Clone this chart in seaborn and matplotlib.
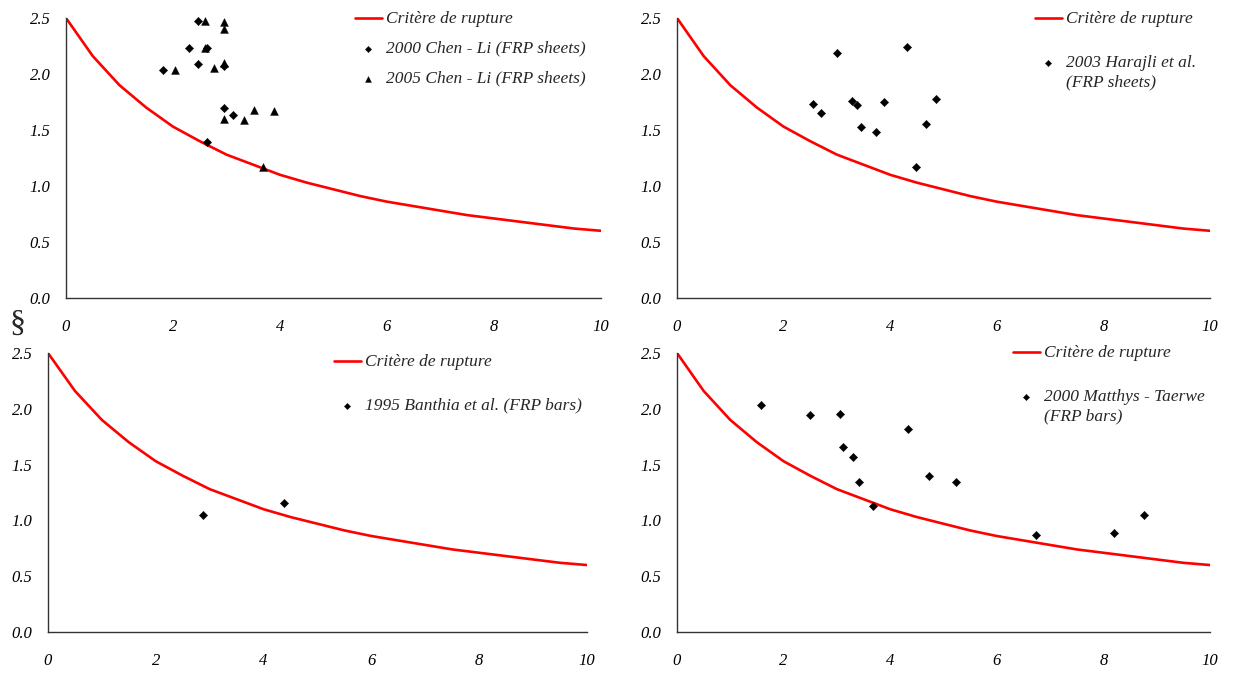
import matplotlib
matplotlib.use("Agg")
import matplotlib.pyplot as plt
import seaborn as sns
import pandas as pd

# failure criterion curve (every 0.5)
crit_x = [0, 0.5, 1, 1.5, 2, 2.5, 3, 3.5, 4, 4.5, 5, 5.5, 6, 6.5, 7, 7.5, 8, 8.5, 9, 9.5, 10]
crit_y = [2.50, 2.16, 1.90, 1.70, 1.53, 1.40, 1.28, 1.19, 1.10, 1.03, 0.97, 0.91,
          0.86, 0.82, 0.78, 0.74, 0.71, 0.68, 0.65, 0.62, 0.60]

# test data
chen2000_x = [2.46, 2.30, 2.63, 1.81, 2.46, 2.95, 2.95, 3.12, 2.63]
chen2000_y = [2.47, 2.23, 2.23, 2.04, 2.09, 2.07, 1.70, 1.63, 1.39]
chen2005_x = [2.59, 2.95, 2.95, 2.59, 2.03, 2.77, 2.95, 2.95, 3.32, 3.51, 3.88, 3.69]
chen2005_y = [2.47, 2.46, 2.40, 2.23, 2.04, 2.05, 2.10, 1.60, 1.59, 1.68, 1.67, 1.17]

harajli_x = [3.00, 4.31, 2.55, 2.70, 3.29, 3.38, 3.89, 4.85, 3.46, 3.74, 4.68, 4.48]
harajli_y = [2.19, 2.24, 1.73, 1.65, 1.76, 1.72, 1.75, 1.78, 1.53, 1.48, 1.55, 1.17]

banthia_x = [2.88, 4.38]
banthia_y = [1.05, 1.16]

matthys_x = [1.58, 2.49, 3.06, 3.12, 3.30, 3.41, 3.67, 4.33, 4.72, 5.23, 6.73, 8.20, 8.76]
matthys_y = [2.03, 1.94, 1.95, 1.66, 1.57, 1.34, 1.13, 1.82, 1.40, 1.34, 0.87, 0.89, 1.05]

x_ticks = [0, 2, 4, 6, 8, 10]
y_ticks = [0.0, 0.5, 1.0, 1.5, 2.0, 2.5]

sns.set_theme(style="white")
plt.rcParams['font.family'] = ['Liberation Serif', 'DejaVu Serif']
plt.rcParams['font.style'] = 'italic'

W, H = 1237, 673
fig = plt.figure(figsize=(W / 100, H / 100), dpi=100)

def px_axes(left, right, top, bottom):
    return fig.add_axes([left / W, 1 - bottom / H, (right - left) / W, (bottom - top) / H])

FS = 12.5

def style_axes(ax):
    ax.set_xlim(0, 10)
    ax.set_ylim(0, 2.5)
    ax.set_xticks(x_ticks)
    ax.set_xticklabels([str(t) for t in x_ticks])
    ax.set_yticks(y_ticks)
    ax.set_yticklabels([f"{t:.1f}" for t in y_ticks])
    ax.tick_params(direction='in', length=5, width=1, colors='#333333',
                   labelcolor='black', labelsize=12)
    ax.tick_params(axis='x', pad=15)
    ax.tick_params(axis='y', pad=11)
    ax.set_xlabel('')
    ax.set_ylabel('')
    for s in ['top', 'right']:
        ax.spines[s].set_visible(False)
    for s in ['left', 'bottom']:
        ax.spines[s].set_color('#333333')
        ax.spines[s].set_linewidth(1)

def draw_curve(ax):
    sns.lineplot(x=crit_x, y=crit_y, ax=ax, color='#ff0000', linewidth=1.9,
                 label='Critère de rupture', zorder=2)

def draw_pts(ax, x, y, marker, label, size):
    sns.scatterplot(x=x, y=y, ax=ax, marker=marker, color='black', s=size,
                    edgecolor='black', linewidth=0.3, label=label, zorder=3,
                    clip_on=False)

def add_legend(ax, x, y, spacing):
    leg = ax.legend(loc='upper left', bbox_to_anchor=(x / W, 1 - y / H),
                    bbox_transform=fig.transFigure, frameon=False, fontsize=FS,
                    borderpad=0, borderaxespad=0, handlelength=1.55,
                    handleheight=1.0, handletextpad=0.25, labelspacing=spacing,
                    markerscale=0.75)
    for t in leg.get_texts():
        t.set_linespacing(1.3)
    # marker next to the first line of a two-line label
    for col in leg._legend_handle_box.get_children():
        for row in col.get_children():
            row.align = 'top'

# top left
ax1 = px_axes(66, 601, 18, 298)
draw_curve(ax1)
draw_pts(ax1, chen2000_x, chen2000_y, 'D', '2000 Chen - Li (FRP sheets)', 18)
draw_pts(ax1, chen2005_x, chen2005_y, '^', '2005 Chen - Li (FRP sheets)', 32)
style_axes(ax1)
add_legend(ax1, 355, 11, 0.8)

# top right
ax2 = px_axes(677, 1210, 18, 298)
draw_curve(ax2)
draw_pts(ax2, harajli_x, harajli_y, 'D', '2003 Harajli et al.\n(FRP sheets)', 18)
style_axes(ax2)
add_legend(ax2, 1035, 11, 1.6)

# bottom left
ax3 = px_axes(48, 587, 353, 632)
draw_curve(ax3)
draw_pts(ax3, banthia_x, banthia_y, 'D', '1995 Banthia et al. (FRP bars)', 18)
style_axes(ax3)
add_legend(ax3, 334, 354, 1.6)

# bottom right
ax4 = px_axes(677, 1210, 353, 632)
draw_curve(ax4)
draw_pts(ax4, matthys_x, matthys_y, 'D', '2000 Matthys - Taerwe\n(FRP bars)', 18)
style_axes(ax4)
add_legend(ax4, 1013, 345, 1.6)

fig.text(17.5 / W, 1 - 324 / H, '§', fontsize=23, style='normal',
         ha='center', va='center')

fig.savefig('out.png', dpi=100)
